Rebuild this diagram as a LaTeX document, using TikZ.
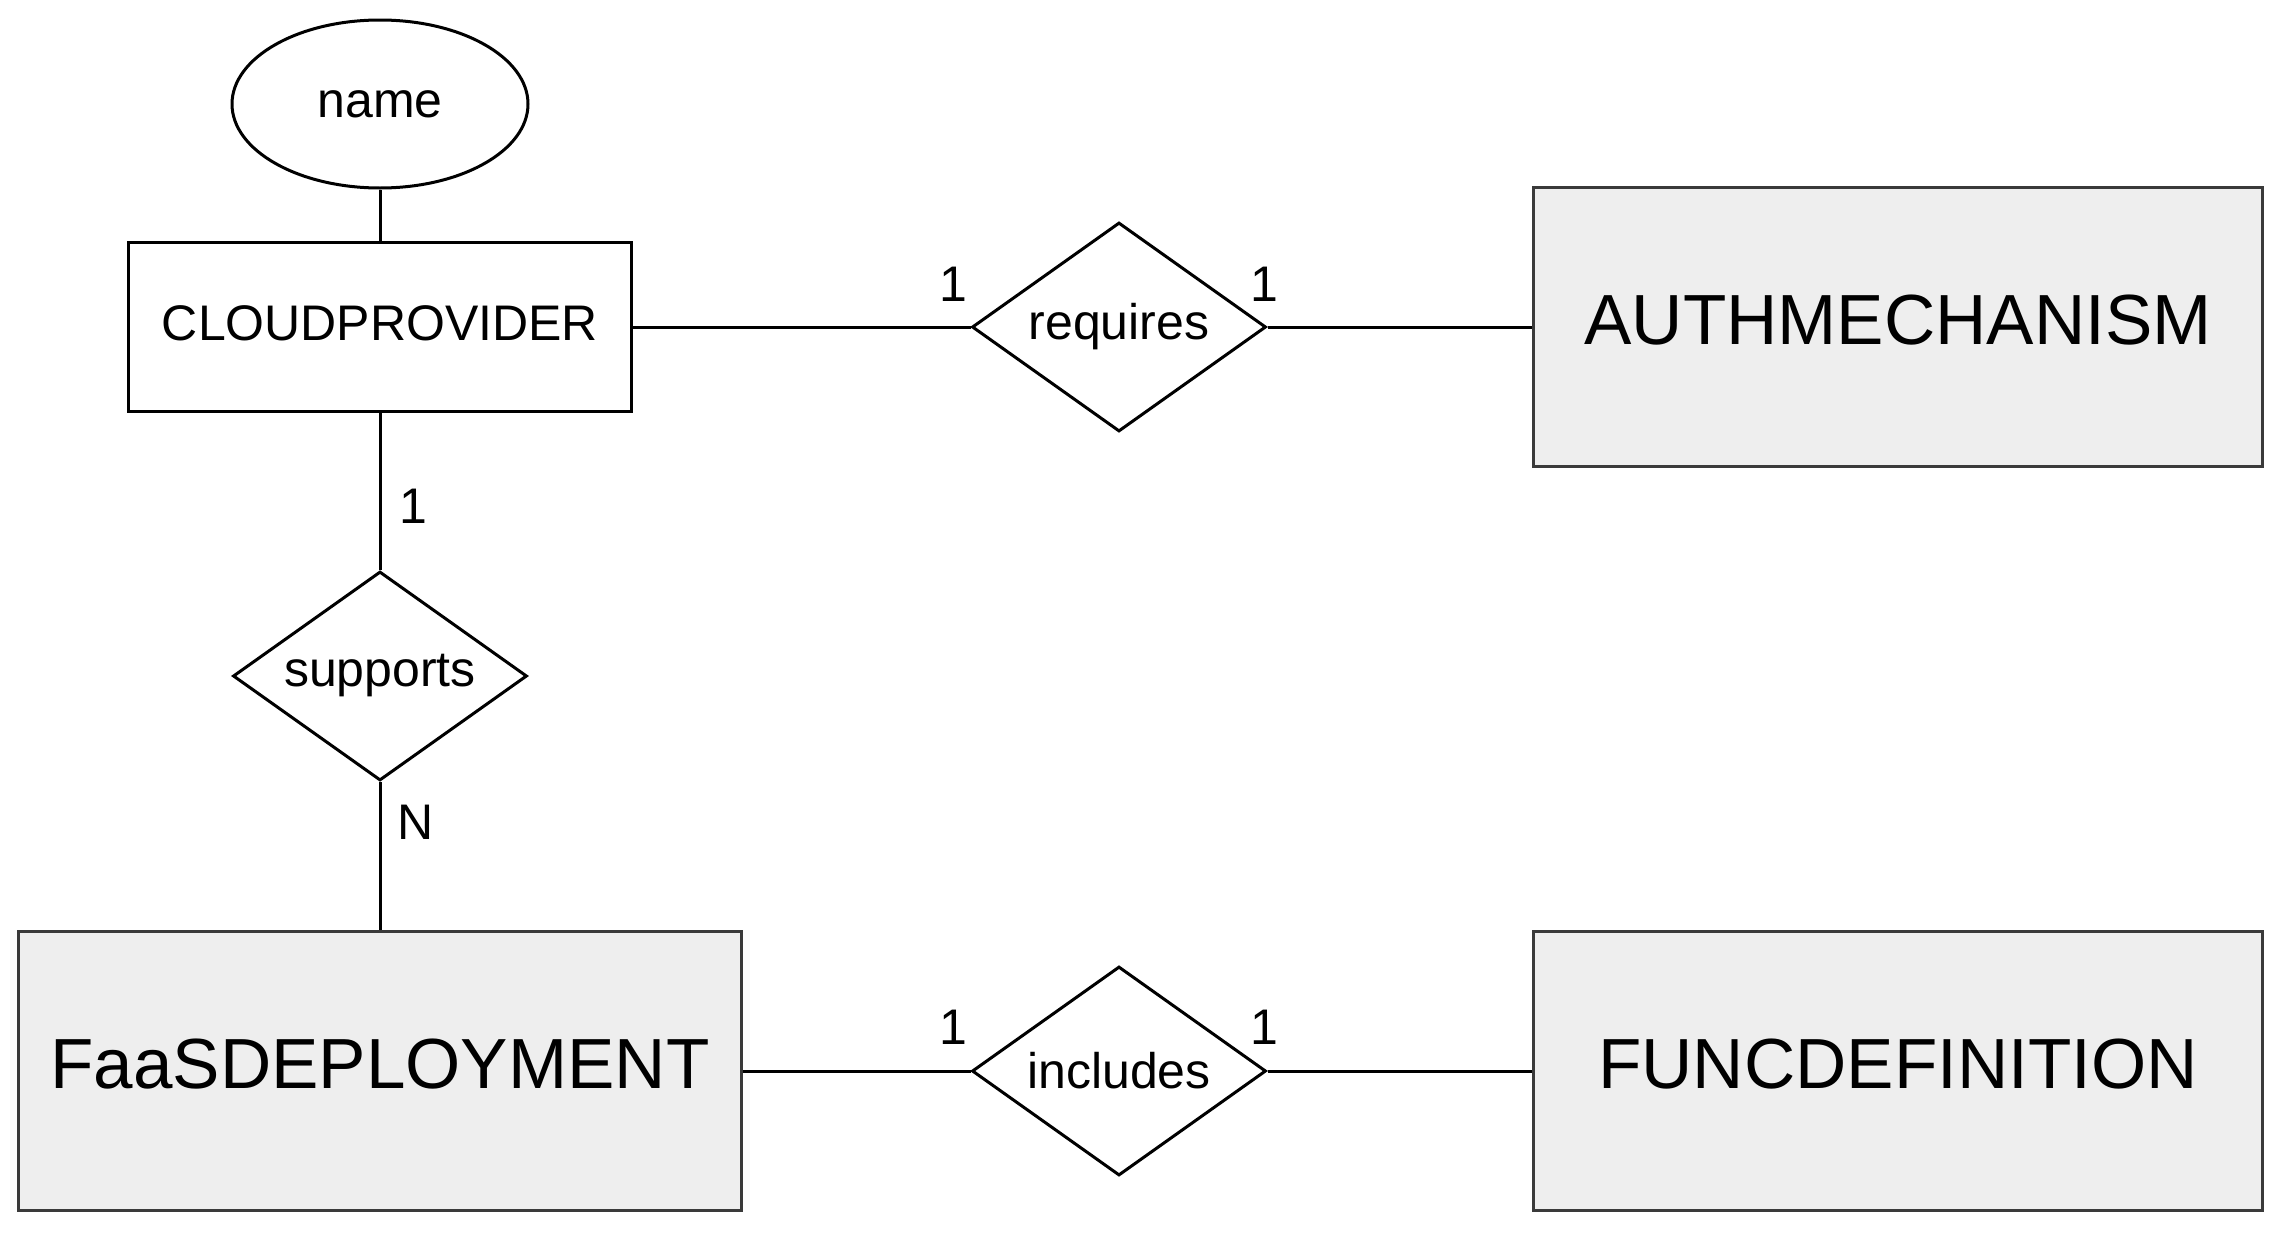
\documentclass[tikz,border=0pt]{standalone}
\usepackage{fontspec}
\setmainfont{Liberation Sans}
\usetikzlibrary{shapes.geometric}
\definecolor{entfill}{HTML}{EEEEEE}
\definecolor{entline}{HTML}{3A3A3A}
\begin{document}
\begin{tikzpicture}[x=1pt,y=-1pt,
  weakent/.style={draw=black,line width=3pt,fill=white,rectangle,inner sep=0pt,text depth=8pt,
    minimum width=503pt,minimum height=169pt,font=\fontsize{50}{60}\selectfont},
  bigent/.style={draw=entline,line width=3.5pt,fill=entfill,rectangle,inner sep=0pt,text depth=14pt,
    minimum width=729pt,minimum height=279pt,font=\fontsize{71}{85}\selectfont},
  attrib/.style={draw=black,line width=3pt,ellipse,inner sep=0pt,
    minimum width=296pt,minimum height=168pt,font=\fontsize{50}{60}\selectfont},
  relbox/.style={draw=black,line width=3pt,diamond,fill=white,inner sep=0pt,aspect=1.4,
    minimum width=294pt,minimum height=209pt,font=\fontsize{50}{60}\selectfont},
  card/.style={inner sep=0pt,font=\fontsize{50}{60}\selectfont},
  conn/.style={draw=black,line width=3pt}]
\useasboundingbox[fill=white] (0,0) rectangle (2281,1234);

\node[attrib] (name) at (380,104) {name};
\node[weakent] (cp) at (380,327) {CLOUDPROVIDER};
\node[relbox] (req) at (1119,327) {requires};
\node[bigent] (auth) at (1898,327) {AUTHMECHANISM};
\node[relbox] (sup) at (380,676) {supports};
\node[bigent, minimum width=723pt] (faas) at (380,1071) {FaaSDEPLOYMENT};
\node[relbox] (inc) at (1119,1071) {includes};
\node[bigent] (func) at (1898,1071) {FUNCDEFINITION};

\node[card] (c1) at (953,284) {1};
\node[card] (c2) at (1264,284) {1};
\node[card] (c3) at (413,506) {1};
\node[card] (c4) at (416,822) {N};
\node[card] (c5) at (953,1027) {1};
\node[card] (c6) at (1264,1027) {1};

\draw[conn] (name.south) -- (cp.north);
\draw[conn] (cp.east) -- (req.west);
\draw[conn] (req.east) -- (auth.west);
\draw[conn] (cp.south) -- (sup.north);
\draw[conn] (sup.south) -- (faas.north);
\draw[conn] (faas.east) -- (inc.west);
\draw[conn] (inc.east) -- (func.west);
\end{tikzpicture}
\end{document}
